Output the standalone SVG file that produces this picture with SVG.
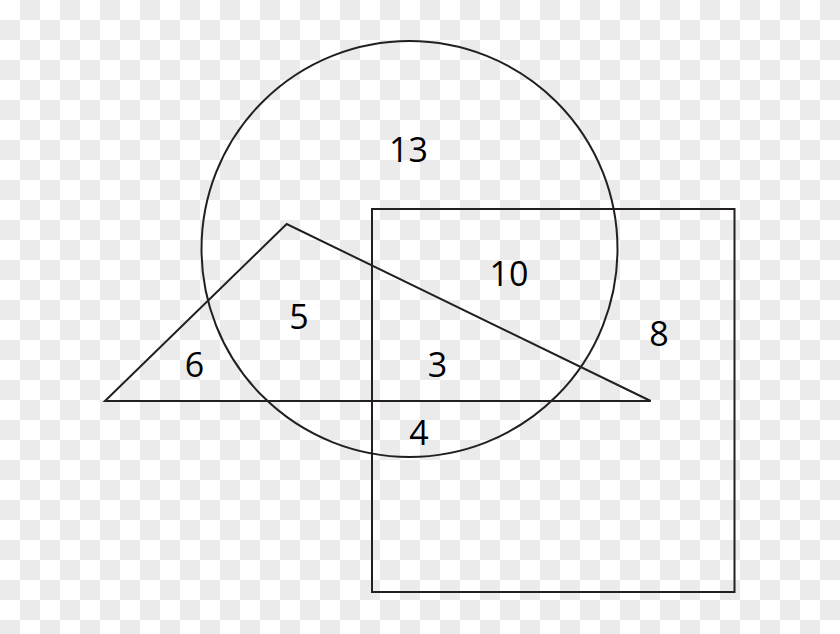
<svg xmlns="http://www.w3.org/2000/svg" width="840" height="634" viewBox="0 0 840 634">
<defs>
<pattern id="checker" x="0" y="0" width="40" height="40" patternUnits="userSpaceOnUse">
<rect width="40" height="40" fill="#ffffff"/>
<rect x="20" y="0" width="20" height="20" fill="#ebebeb"/>
<rect x="0" y="20" width="20" height="20" fill="#ebebeb"/>
</pattern>
</defs>
<style>
.shape{fill:none;stroke:#231f20;stroke-width:2}
.lbl{font-family:"Open Sans","Noto Sans",sans-serif;font-size:34px;fill:#000;text-anchor:middle}
</style>
<rect width="840" height="634" fill="url(#checker)"/>
<g id="shapes">
<circle id="circle" class="shape" cx="409.5" cy="249" r="208"/>
<rect id="square" class="shape" x="372" y="209" width="362.5" height="383"/>
<polygon id="triangle" class="shape" points="105,401 286.7,224 650.7,401"/>
</g>
<g id="labels">
<text class="lbl" x="408.5" y="161.5">13</text>
<text class="lbl" x="509" y="286">10</text>
<text class="lbl" x="299" y="328.5">5</text>
<text class="lbl" x="659" y="345.5">8</text>
<text class="lbl" x="194.5" y="376.5">6</text>
<text class="lbl" x="437.5" y="376.5">3</text>
<text class="lbl" x="419" y="445">4</text>
</g>
</svg>
